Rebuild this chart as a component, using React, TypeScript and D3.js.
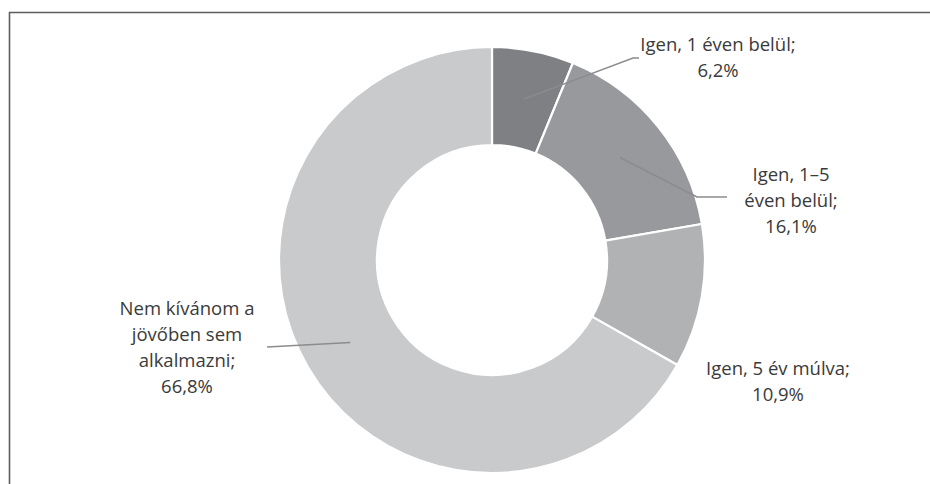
import React, { useRef, useEffect } from 'react';
import * as d3 from 'd3';

const categories = [
  'Igen, 1 éven belül',
  'Igen, 1–5 éven belül',
  'Igen, 5 év múlva',
  'Nem kívánom a jövőben sem alkalmazni',
];
const values = [6.2, 16.1, 10.9, 66.8];
const labelLines = [
  ['Igen, 1 éven belül;', '6,2%'],
  ['Igen, 1–5', 'éven belül;', '16,1%'],
  ['Igen, 5 év múlva;', '10,9%'],
  ['Nem kívánom a', 'jövőben sem', 'alkalmazni;', '66,8%'],
];

const sliceColors = ['#7f8083', '#98999c', '#b1b2b4', '#c9cacc'];

// label placement: text centre x, first baseline y, leader end points
const labelLayout = [
  { x: 718, y: 51, leader: [[633, 58], [639, 58]] },
  { x: 791, y: 181, leader: [[697, 197], [727, 197]] },
  { x: 778, y: 375, leader: null },
  { x: 187, y: 315, leader: [[267, 347]] },
];

const App: React.FC = () => {
  const svgRef = useRef<SVGSVGElement>(null);
  const width = 930;
  const height = 484;

  useEffect(() => {
    if (!svgRef.current) return;
    const svg = d3.select(svgRef.current);
    svg.selectAll('*').remove();

    const cx = 492;
    const cy = 260;
    const outerR = 213;
    const innerR = 115;
    const font = "'Open Sans', 'Noto Sans', sans-serif";

    // frame (only left and top edges are in view)
    svg
      .append('path')
      .attr('d', `M9.5,${height}V12.5H${width}`)
      .attr('fill', 'none')
      .attr('stroke', '#5e5e5e')
      .attr('stroke-width', 1.6);

    const pie = d3
      .pie<number>()
      .value((d) => d)
      .sort(null);

    const arc = d3
      .arc<d3.PieArcDatum<number>>()
      .innerRadius(innerR)
      .outerRadius(outerR);

    const mid = (innerR + outerR) / 2;
    const centroidArc = d3
      .arc<d3.PieArcDatum<number>>()
      .innerRadius(mid)
      .outerRadius(mid);

    const g = svg.append('g').attr('transform', `translate(${cx},${cy})`);
    const arcs = pie(values);

    g.selectAll('path.slice')
      .data(arcs)
      .enter()
      .append('path')
      .attr('class', 'slice')
      .attr('d', arc)
      .attr('fill', (d, i) => sliceColors[i])
      .attr('stroke', '#fff')
      .attr('stroke-width', 2.2)
      .append('title')
      .text((d, i) => `${categories[i]}: ${values[i]}%`);

    // leader lines
    arcs.forEach((d, i) => {
      const lay = labelLayout[i];
      if (!lay.leader) return;
      const [x0, y0] = centroidArc.centroid(d);
      const pts: [number, number][] = [[x0 + cx, y0 + cy], ...(lay.leader as [number, number][])];
      svg
        .append('path')
        .attr('d', d3.line()(pts))
        .attr('fill', 'none')
        .attr('stroke', '#8c8c8c')
        .attr('stroke-width', 1.5);
    });

    // labels
    labelLines.forEach((lines, i) => {
      const lay = labelLayout[i];
      const t = svg
        .append('text')
        .attr('font-family', font)
        .attr('font-size', 18.5)
        .attr('fill', '#3a3a3a')
        .attr('text-anchor', 'middle');
      lines.forEach((line, j) => {
        t.append('tspan')
          .attr('x', lay.x)
          .attr('y', lay.y + j * 26)
          .text(line);
      });
    });
  }, []);

  return (
    <div style={{ position: 'absolute', left: 0, top: 0, background: '#fff' }}>
      <svg ref={svgRef} width={width} height={height} style={{ display: 'block' }} />
    </div>
  );
};

export default App;
